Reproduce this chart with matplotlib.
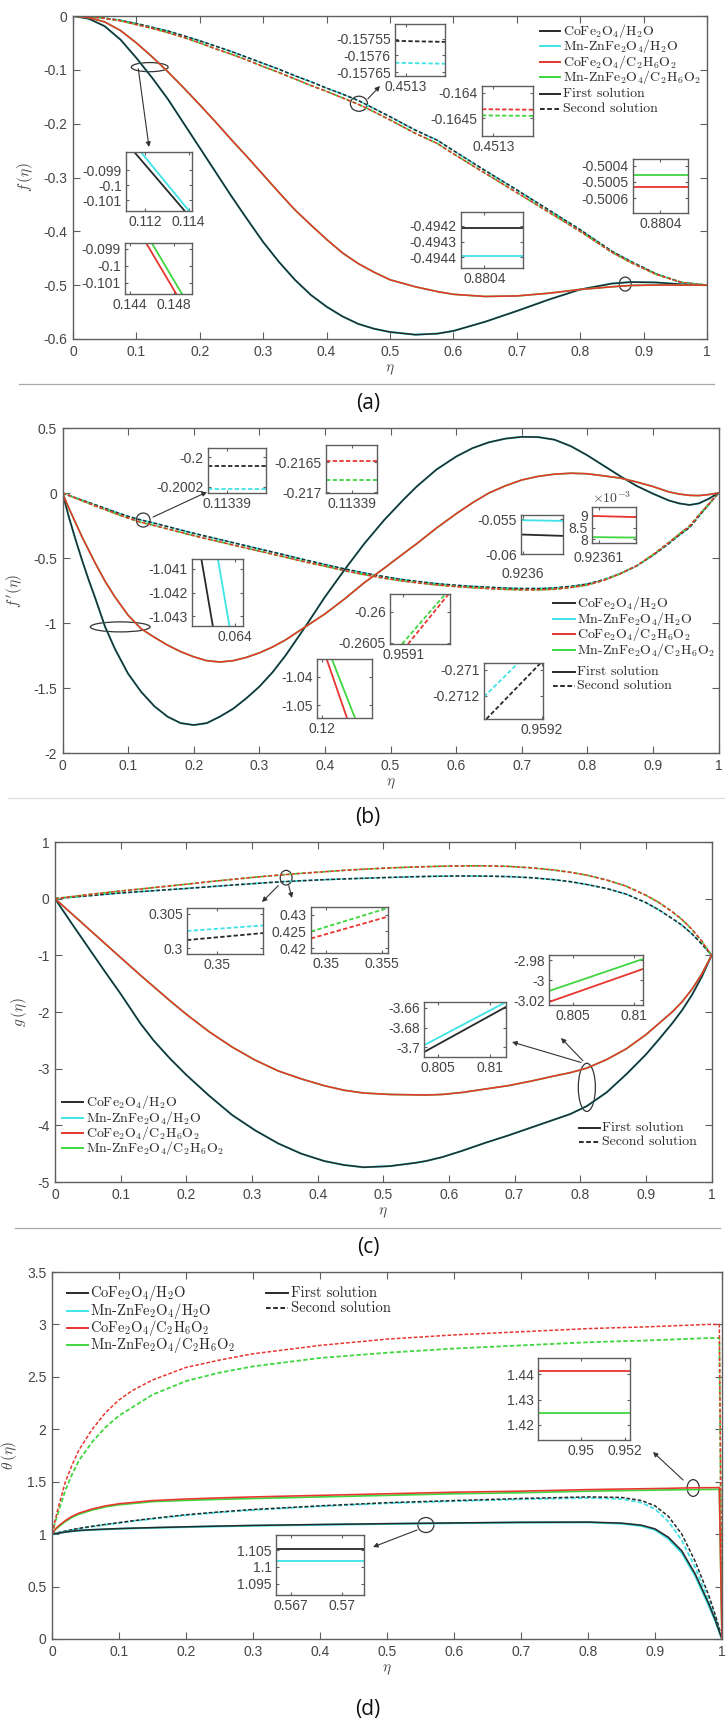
import numpy as np
import matplotlib.pyplot as plt
from matplotlib.patches import Ellipse
from matplotlib.lines import Line2D

plt.rcParams['font.family'] = ['Liberation Sans', 'DejaVu Sans']
plt.rcParams['mathtext.fontset'] = 'cm'
plt.rcParams['axes.unicode_minus'] = False

W, H = 726, 1722

# ---------- data ----------
x_tick_labels = ['0', '0.1', '0.2', '0.3', '0.4', '0.5', '0.6', '0.7', '0.8', '0.9', '1']
materials = ['CoFe$_2$O$_4$/H$_2$O', 'Mn-ZnFe$_2$O$_4$/H$_2$O',
             'CoFe$_2$O$_4$/C$_2$H$_6$O$_2$', 'Mn-ZnFe$_2$O$_4$/C$_2$H$_6$O$_2$']
solutions = ['First solution', 'Second solution']

# (a) f(eta)   (Mn-Zn curves coincide with the Co curves at this scale)
eta_a = [0, 0.025, 0.05, 0.075, 0.1, 0.125, 0.15, 0.175, 0.2, 0.225, 0.25, 0.275, 0.3, 0.325,
         0.35, 0.375, 0.4, 0.425, 0.45, 0.475, 0.5, 0.54, 0.575, 0.6, 0.65, 0.7, 0.75, 0.8,
         0.85, 0.88, 0.92, 0.96, 1]
f_h2o_1 = [0, -0.005, -0.019, -0.044, -0.078, -0.115, -0.155, -0.2, -0.245, -0.29, -0.335,
           -0.378, -0.42, -0.457, -0.49, -0.518, -0.54, -0.558, -0.572, -0.581, -0.587, -0.592,
           -0.59, -0.585, -0.568, -0.548, -0.527, -0.508, -0.497, -0.4942, -0.495, -0.4985, -0.5]
f_eg_1 = [0, -0.003, -0.011, -0.027, -0.05, -0.076, -0.104, -0.134, -0.165, -0.197, -0.23,
          -0.262, -0.295, -0.328, -0.36, -0.388, -0.415, -0.44, -0.46, -0.476, -0.49, -0.503,
          -0.512, -0.517, -0.521, -0.52, -0.515, -0.508, -0.503, -0.5005, -0.4998, -0.4999, -0.5]
f_h2o_2 = [0, -0.001, -0.004, -0.008, -0.014, -0.021, -0.028, -0.037, -0.046, -0.056, -0.066,
           -0.077, -0.088, -0.099, -0.111, -0.122, -0.134, -0.145, -0.157, -0.172, -0.187,
           -0.212, -0.231, -0.25, -0.287, -0.323, -0.36, -0.397, -0.437, -0.456, -0.479,
           -0.495, -0.5]
f_eg_2 = [0, -0.001, -0.0045, -0.009, -0.016, -0.023, -0.031, -0.04, -0.05, -0.061, -0.071,
          -0.082, -0.094, -0.105, -0.117, -0.129, -0.14, -0.152, -0.164, -0.178, -0.193,
          -0.218, -0.237, -0.256, -0.292, -0.328, -0.364, -0.4, -0.439, -0.458, -0.48,
          -0.495, -0.5]

# (b) f'(eta)
eta_b = [0, 0.01, 0.02, 0.03, 0.04, 0.05, 0.065, 0.08, 0.1, 0.12, 0.14, 0.16, 0.18, 0.2, 0.22,
         0.24, 0.26, 0.28, 0.3, 0.32, 0.34, 0.37, 0.4, 0.43, 0.46, 0.49, 0.52, 0.54, 0.57, 0.6,
         0.625, 0.65, 0.675, 0.7, 0.725, 0.75, 0.775, 0.8, 0.825, 0.85, 0.875, 0.9, 0.924,
         0.94, 0.956, 0.97, 0.985, 1]
fp_h2o_1 = [0, -0.19, -0.36, -0.52, -0.67, -0.81, -1.03, -1.2, -1.39, -1.53, -1.64, -1.72,
            -1.77, -1.785, -1.77, -1.72, -1.66, -1.58, -1.49, -1.38, -1.25, -1.03, -0.8, -0.59,
            -0.39, -0.21, -0.05, 0.05, 0.18, 0.28, 0.345, 0.39, 0.418, 0.432, 0.43, 0.41, 0.36,
            0.29, 0.21, 0.13, 0.055, -0.005, -0.057, -0.08, -0.092, -0.08, -0.045, 0]
fp_eg_1 = [0, -0.12, -0.23, -0.34, -0.44, -0.54, -0.68, -0.8, -0.94, -1.045, -1.11, -1.17,
           -1.22, -1.26, -1.29, -1.3, -1.29, -1.265, -1.23, -1.185, -1.13, -1.03, -0.93, -0.815,
           -0.69, -0.58, -0.465, -0.39, -0.27, -0.16, -0.075, 0.0, 0.055, 0.1, 0.128, 0.145,
           0.152, 0.148, 0.132, 0.115, 0.085, 0.05, 0.009, -0.008, -0.018, -0.02, -0.012, 0]
fp_h2o_2 = [0, -0.018, -0.037, -0.055, -0.073, -0.091, -0.118, -0.145, -0.18, -0.208, -0.232,
            -0.258, -0.284, -0.31, -0.334, -0.358, -0.382, -0.406, -0.43, -0.454, -0.478,
            -0.515, -0.55, -0.584, -0.615, -0.643, -0.667, -0.68, -0.697, -0.71, -0.718,
            -0.725, -0.731, -0.735, -0.735, -0.73, -0.718, -0.7, -0.667, -0.62, -0.562,
            -0.48, -0.39, -0.325, -0.265, -0.18, -0.09, 0]
fp_eg_2 = [0, -0.02, -0.04, -0.06, -0.08, -0.1, -0.128, -0.157, -0.193, -0.226, -0.25, -0.276,
           -0.302, -0.328, -0.352, -0.376, -0.4, -0.423, -0.447, -0.47, -0.494, -0.53, -0.563,
           -0.597, -0.628, -0.655, -0.678, -0.69, -0.707, -0.72, -0.728, -0.735, -0.741,
           -0.745, -0.745, -0.74, -0.727, -0.708, -0.672, -0.622, -0.56, -0.475, -0.382,
           -0.316, -0.254, -0.17, -0.085, 0]

# (c) g(eta)
eta_c = [0, 0.025, 0.05, 0.075, 0.1, 0.13, 0.15, 0.175, 0.2, 0.235, 0.27, 0.305, 0.34, 0.375,
         0.41, 0.44, 0.47, 0.51, 0.55, 0.565, 0.59, 0.62, 0.655, 0.69, 0.725, 0.76, 0.785,
         0.81, 0.84, 0.87, 0.9, 0.92, 0.94, 0.955, 0.97, 0.985, 1]
g_h2o_1 = [0, -0.43, -0.85, -1.27, -1.68, -2.2, -2.5, -2.82, -3.11, -3.48, -3.82, -4.09,
           -4.32, -4.5, -4.63, -4.7, -4.74, -4.72, -4.66, -4.63, -4.56, -4.45, -4.31, -4.18,
           -4.04, -3.9, -3.8, -3.66, -3.42, -3.1, -2.75, -2.48, -2.2, -1.97, -1.7, -1.38, -1]
g_eg_1 = [0, -0.26, -0.52, -0.78, -1.04, -1.35, -1.55, -1.8, -2.04, -2.35, -2.62, -2.85,
          -3.04, -3.18, -3.3, -3.38, -3.43, -3.455, -3.462, -3.465, -3.455, -3.42, -3.36,
          -3.3, -3.22, -3.13, -3.07, -2.99, -2.84, -2.65, -2.4, -2.2, -2.0, -1.82, -1.6,
          -1.33, -1]
g_h2o_2 = [0, 0.025, 0.05, 0.075, 0.1, 0.125, 0.14, 0.16, 0.18, 0.21, 0.24, 0.268, 0.295,
           0.316, 0.335, 0.348, 0.36, 0.375, 0.388, 0.392, 0.397, 0.4, 0.398, 0.39, 0.37,
           0.335, 0.3, 0.25, 0.18, 0.08, -0.07, -0.2, -0.35, -0.47, -0.62, -0.8, -1]
g_eg_2 = [0, 0.035, 0.07, 0.103, 0.135, 0.17, 0.195, 0.225, 0.255, 0.3, 0.34, 0.38, 0.415,
          0.447, 0.475, 0.5, 0.52, 0.543, 0.56, 0.565, 0.573, 0.578, 0.578, 0.57, 0.545,
          0.505, 0.465, 0.415, 0.33, 0.22, 0.06, -0.07, -0.23, -0.37, -0.54, -0.75, -1]

# (d) theta(eta)
eta_d = [0, 0.005, 0.01, 0.02, 0.03, 0.04, 0.06, 0.08, 0.1, 0.12, 0.15, 0.2, 0.25, 0.3, 0.4,
         0.5, 0.6, 0.7, 0.8, 0.85, 0.88, 0.9, 0.92, 0.94, 0.96, 0.98, 0.99, 0.996, 0.998, 1]
th_co_h2o_1 = [1, 1.005, 1.01, 1.02, 1.028, 1.035, 1.042, 1.048, 1.053, 1.057, 1.062, 1.07,
               1.077, 1.083, 1.092, 1.1, 1.107, 1.113, 1.115, 1.105, 1.085, 1.05, 0.97, 0.84,
               0.62, 0.34, 0.18, 0.07, 0.035, 0]
th_mn_h2o_1 = [1, 1.005, 1.01, 1.02, 1.027, 1.034, 1.041, 1.046, 1.051, 1.055, 1.06, 1.067,
               1.074, 1.08, 1.089, 1.097, 1.104, 1.11, 1.112, 1.1, 1.078, 1.04, 0.955, 0.82,
               0.6, 0.32, 0.17, 0.065, 0.03, 0]
th_co_h2o_2 = [1, 1.008, 1.015, 1.03, 1.043, 1.055, 1.075, 1.093, 1.11, 1.127, 1.15, 1.185,
               1.212, 1.235, 1.27, 1.3, 1.32, 1.34, 1.355, 1.35, 1.32, 1.27, 1.17, 1.0, 0.74,
               0.42, 0.23, 0.1, 0.05, 0]
th_mn_h2o_2 = [1, 1.007, 1.014, 1.028, 1.04, 1.052, 1.072, 1.09, 1.106, 1.123, 1.145, 1.18,
               1.207, 1.23, 1.265, 1.294, 1.314, 1.332, 1.345, 1.335, 1.3, 1.24, 1.12, 0.94,
               0.68, 0.37, 0.2, 0.09, 0.045, 0]
th_co_eg_1 = [1, 1.05, 1.08, 1.13, 1.17, 1.2, 1.24, 1.27, 1.29, 1.302, 1.32, 1.335, 1.346,
              1.355, 1.37, 1.385, 1.4, 1.41, 1.425, 1.43, 1.433, 1.435, 1.437, 1.44, 1.442,
              1.443, 1.444, 1.445, 0.7, 0]
th_mn_eg_1 = [1, 1.045, 1.07, 1.12, 1.16, 1.19, 1.23, 1.26, 1.28, 1.292, 1.31, 1.322, 1.332,
              1.34, 1.355, 1.37, 1.385, 1.395, 1.41, 1.415, 1.418, 1.42, 1.422, 1.424, 1.425,
              1.426, 1.427, 1.428, 0.7, 0]
th_co_eg_2 = [1, 1.14, 1.27, 1.5, 1.66, 1.8, 2.0, 2.16, 2.28, 2.37, 2.47, 2.59, 2.66, 2.72,
              2.8, 2.86, 2.9, 2.93, 2.96, 2.97, 2.975, 2.98, 2.985, 2.99, 2.995, 3.0, 3.0, 3.0,
              1.5, 0]
th_mn_eg_2 = [1, 1.12, 1.22, 1.42, 1.57, 1.7, 1.88, 2.02, 2.13, 2.21, 2.33, 2.46, 2.54, 2.6,
              2.68, 2.73, 2.77, 2.8, 2.83, 2.84, 2.845, 2.85, 2.855, 2.86, 2.865, 2.87, 2.87,
              2.87, 1.4, 0]

# zoomed windows (x range, y range, line values)
a1_x, a1_y = [0.11112, 0.11415], [-0.10173, -0.0978]
a1_co_x, a1_mn_x, a1_line_y = [0.1115, 0.1138], [0.1118, 0.1140], [-0.0978, -0.1017]
a2_x, a2_y = [0.14354, 0.14969], [-0.10165, -0.09865]
a2_co_x, a2_mn_x, a2_line_y = [0.14548, 0.14825], [0.1460, 0.14877], [-0.09865, -0.10165]
a3_x, a3_y = [0.45128, 0.45137], [-0.157662, -0.157505]
a3_co, a3_mn = [-0.157556, -0.157559], [-0.157622, -0.157625]
a4_x, a4_y = [0.45128, 0.45137], [-0.16484, -0.16387]
a4_co, a4_mn = [-0.16432, -0.16433], [-0.16444, -0.16445]
a5_x, a5_y = [0.88037, 0.88045], [-0.49447, -0.49411]
a5_co, a5_mn = [-0.49421, -0.49421], [-0.49439, -0.49439]
a6_x, a6_y = [0.880395, 0.880405], [-0.50069, -0.50036]
a6_co, a6_mn = [-0.50053, -0.50053], [-0.50046, -0.50046]

b1_x, b1_y = [0.113387, 0.113396], [-0.20024, -0.19994]
b1_co, b1_mn = [-0.20006, -0.20006], [-0.20021, -0.20021]
b2_x, b2_y = [0.113385, 0.113395], [-0.21701, -0.21621]
b2_co, b2_mn = [-0.21648, -0.21648], [-0.21679, -0.21679]
b3_x, b3_y = [0.0630, 0.0642], [-1.0434, -1.0406]
b3_co_x, b3_mn_x, b3_line_y = [0.06322, 0.06349], [0.06361, 0.06388], [-1.0406, -1.0434]
b4_x, b4_y = [0.1195, 0.1255], [-1.0546, -1.0336]
b4_co_x, b4_mn_x, b4_line_y = [0.12055, 0.12277], [0.12112, 0.12364], [-1.0336, -1.0546]
b5_x, b5_y = [0.95908, 0.95917], [-0.26052, -0.25971]
b5_co_x, b5_mn_x, b5_line_y = [0.959107, 0.959168], [0.959098, 0.959163], [-0.26052, -0.25971]
b6_x, b6_y = [0.959151, 0.959201], [-0.27138, -0.27095]
b6_co_x, b6_co_y = [0.959153, 0.959199], [-0.27138, -0.27095]
b6_mn_x, b6_mn_y = [0.959151, 0.959180], [-0.27121, -0.27095]
b7_x, b7_y = [0.923598, 0.923638], [-0.0600, -0.0544]
b7_co, b7_mn = [-0.0572, -0.0574], [-0.05514, -0.05525]
b8_x, b8_y = [0.923604, 0.923644], [7.85e-3, 9.38e-3]
b8_co, b8_mn = [9.0e-3, 8.95e-3], [8.1e-3, 8.08e-3]

c1_x, c1_y = [0.3496, 0.3506], [0.2992, 0.3058]
c1_co, c1_mn = [0.3012, 0.3022], [0.3025, 0.3033]
c2_x, c2_y = [0.34866, 0.35554], [0.4185, 0.4324]
c2_co, c2_mn = [0.4229, 0.4295], [0.425, 0.4321]
c3_x, c3_y = [0.80303, 0.8107], [-3.025, -2.975]
c3_co, c3_mn = [-3.022, -2.989], [-3.011, -2.979]
c4_x, c4_y = [0.80371, 0.81152], [-3.71, -3.654]
c4_co, c4_mn = [-3.705, -3.659], [-3.698, -3.654]

d1_x, d1_y = [0.94805, 0.95223], [1.4141, 1.4463]
d1_co, d1_mn = [1.4412, 1.4412], [1.4247, 1.4247]
d2_x, d2_y = [0.56612, 0.57129], [1.0916, 1.1096]
d2_co, d2_mn = [1.1055, 1.1055], [1.1019, 1.1019]

# ---------- styling ----------
C_BLACK = '#262a2a'
C_CYAN = '#3fe3e6'
C_RED = '#e8352f'
C_GREEN = '#3fd63f'
SPINE = '#5e5e5e'
TXT = '#454545'
DASH = (0, (2.4, 1.3))

fig = plt.figure(figsize=(W / 100, H / 100), dpi=100)


def px_axes(x0, y0, x1, y1):
    return fig.add_axes([x0 / W, 1 - y1 / H, (x1 - x0) / W, (y1 - y0) / H])


def style(ax, size=10, length=5, pad=4):
    for s in ax.spines.values():
        s.set_color(SPINE)
        s.set_linewidth(1.0)
    ax.tick_params(direction='in', length=length, width=0.8, top=True, right=True,
                   color=SPINE, labelcolor=TXT, labelsize=size, pad=pad)


def main_axes(box, eta, s1, s2, ylim, yticks, ylabel):
    ax = px_axes(*box)
    co1, mn1, coe1, mne1 = s1
    co2, mn2, coe2, mne2 = s2
    ax.plot(eta, mn2, color=C_CYAN, ls=DASH, lw=1.3)
    ax.plot(eta, co2, color=C_BLACK, ls=DASH, lw=1.1)
    ax.plot(eta, mne2, color=C_GREEN, ls=DASH, lw=1.3)
    ax.plot(eta, coe2, color=C_RED, ls=DASH, lw=1.1)
    ax.plot(eta, mn1, color=C_CYAN, lw=1.45)
    ax.plot(eta, co1, color=C_BLACK, lw=1.15)
    ax.plot(eta, mne1, color=C_GREEN, lw=1.25)
    ax.plot(eta, coe1, color=C_RED, lw=1.15)
    ax.set_xlim(0, 1)
    ax.set_ylim(*ylim)
    ax.set_xticks(np.linspace(0, 1, 11), x_tick_labels)
    ax.set_yticks(yticks, ['%g' % v for v in yticks])
    style(ax)
    ax.set_xlabel(r'$\eta$', fontsize=11, color=TXT, labelpad=3)
    ax.set_ylabel(ylabel, fontsize=11, color=TXT, labelpad=6)
    return ax


def inset(box, xlim, ylim, xticks, xlabels, yticks, ylabels, series, xpad=3):
    ax = px_axes(*box)
    for xs, ys, color, ls in series:
        ax.plot(xs, ys, color=color, ls=ls, lw=1.3)
    ax.set_xlim(*xlim)
    ax.set_ylim(*ylim)
    ax.set_xticks(xticks, xlabels)
    ax.set_yticks(yticks, ylabels)
    style(ax, size=10, length=2, pad=3)
    ax.tick_params(axis='x', pad=xpad)
    return ax


def ring(ax, xy, w, h):
    ax.add_patch(Ellipse(xy, w, h, fill=False, color='#333333', lw=0.9))


def arrow(ax, start, end_px):
    ax.annotate('', xy=(end_px[0], H - end_px[1]), xycoords='figure pixels',
                xytext=start, textcoords='data',
                arrowprops=dict(arrowstyle='-|>', color='#333333', lw=0.8,
                                mutation_scale=7, shrinkA=0, shrinkB=0))


def legend_rows(x0, x1, xt, ys, labels, styles, fs):
    for y, lab, (color, ls) in zip(ys, labels, styles):
        fig.add_artist(Line2D([x0 / W, x1 / W], [1 - y / H] * 2, color=color, ls=ls, lw=1.4))
        fig.text(xt / W, 1 - y / H, lab, fontsize=fs, family='cmr10', va='center', color='#2a2a2a')


mat_styles = [(C_BLACK, '-'), (C_CYAN, '-'), (C_RED, '-'), (C_GREEN, '-')]
sol_styles = [(C_BLACK, '-'), (C_BLACK, DASH)]

# ---------- (a) ----------
ax = main_axes((73, 16, 707, 339), eta_a, (f_h2o_1, f_h2o_1, f_eg_1, f_eg_1),
               (f_h2o_2, f_h2o_2, f_eg_2, f_eg_2), (-0.6, 0),
               [-0.6, -0.5, -0.4, -0.3, -0.2, -0.1, 0], r'$f\,(\eta)$')
ring(ax, (0.121, -0.095), 0.058, 0.017)
ring(ax, (0.451, -0.163), 0.027, 0.028)
ring(ax, (0.871, -0.498), 0.019, 0.026)
arrow(ax, (0.103, -0.098), (149, 147))
arrow(ax, (0.465, -0.154), (380, 86))
inset((126, 152, 192, 211), a1_x, a1_y, [0.112, 0.114], ['0.112', '0.114'],
      [-0.101, -0.1, -0.099], ['-0.101', '-0.1', '-0.099'],
      [(a1_co_x, a1_line_y, C_BLACK, '-'), (a1_mn_x, a1_line_y, C_CYAN, '-')])
inset((125, 243, 192, 294), a2_x, a2_y, [0.144, 0.148], ['0.144', '0.148'],
      [-0.101, -0.1, -0.099], ['-0.101', '-0.1', '-0.099'],
      [(a2_co_x, a2_line_y, C_RED, '-'), (a2_mn_x, a2_line_y, C_GREEN, '-')])
inset((395, 24, 445, 76), a3_x, a3_y, [0.4513], ['0.4513'],
      [-0.15765, -0.1576, -0.15755], ['-0.15765', '-0.1576', '-0.15755'],
      [(a3_x, a3_co, C_BLACK, DASH), (a3_x, a3_mn, C_CYAN, DASH)])
inset((482, 86, 533, 136), a4_x, a4_y, [0.4513], ['0.4513'],
      [-0.1645, -0.164], ['-0.1645', '-0.164'],
      [(a4_x, a4_co, C_RED, DASH), (a4_x, a4_mn, C_GREEN, DASH)])
inset((461, 212, 523, 268), a5_x, a5_y, [0.8804], ['0.8804'],
      [-0.4944, -0.4943, -0.4942], ['-0.4944', '-0.4943', '-0.4942'],
      [(a5_x, a5_co, C_BLACK, '-'), (a5_x, a5_mn, C_CYAN, '-')])
inset((633, 159, 688, 213), a6_x, a6_y, [0.8804], ['0.8804'],
      [-0.5006, -0.5005, -0.5004], ['-0.5006', '-0.5005', '-0.5004'],
      [(a6_x, a6_co, C_RED, '-'), (a6_x, a6_mn, C_GREEN, '-')])
legend_rows(540, 560, 563, [31, 46, 62, 77], materials, mat_styles, 10)
legend_rows(540, 560, 563, [94, 109], solutions, sol_styles, 10)

# ---------- (b) ----------
ax = main_axes((62.5, 428, 718.5, 753), eta_b, (fp_h2o_1, fp_h2o_1, fp_eg_1, fp_eg_1),
               (fp_h2o_2, fp_h2o_2, fp_eg_2, fp_eg_2), (-2, 0.5),
               [-2, -1.5, -1, -0.5, 0, 0.5], r"$f\,'(\eta)$")
ring(ax, (0.123, -0.208), 0.021, 0.108)
ring(ax, (0.088, -1.03), 0.091, 0.077)
arrow(ax, (0.138, -0.185), (207, 492))
inset((208, 448, 266, 493), b1_x, b1_y, [0.11339], ['0.11339'],
      [-0.2002, -0.2], ['-0.2002', '-0.2'],
      [(b1_x, b1_co, C_BLACK, DASH), (b1_x, b1_mn, C_CYAN, DASH)])
inset((326, 445, 377, 493), b2_x, b2_y, [0.11339], ['0.11339'],
      [-0.217, -0.2165], ['-0.217', '-0.2165'],
      [(b2_x, b2_co, C_RED, DASH), (b2_x, b2_mn, C_GREEN, DASH)])
inset((192, 559, 243, 626), b3_x, b3_y, [0.064], ['0.064'],
      [-1.043, -1.042, -1.041], ['-1.043', '-1.042', '-1.041'],
      [(b3_co_x, b3_line_y, C_BLACK, '-'), (b3_mn_x, b3_line_y, C_CYAN, '-')])
inset((317, 659, 372, 718), b4_x, b4_y, [0.12], ['0.12'],
      [-1.05, -1.04], ['-1.05', '-1.04'],
      [(b4_co_x, b4_line_y, C_RED, '-'), (b4_mn_x, b4_line_y, C_GREEN, '-')])
inset((390, 594, 450, 644), b5_x, b5_y, [0.9591], ['0.9591'],
      [-0.2605, -0.26], ['-0.2605', '-0.26'],
      [(b5_co_x, b5_line_y, C_RED, DASH), (b5_mn_x, b5_line_y, C_GREEN, DASH)])
inset((484, 663, 543, 719), b6_x, b6_y, [0.9592], ['0.9592'],
      [-0.2712, -0.271], ['-0.2712', '-0.271'],
      [(b6_co_x, b6_co_y, C_BLACK, DASH), (b6_mn_x, b6_mn_y, C_CYAN, DASH)])
inset((521, 515, 563, 554), b7_x, b7_y, [0.9236], ['0.9236'],
      [-0.06, -0.055], ['-0.06', '-0.055'],
      [(b7_x, b7_co, C_BLACK, '-'), (b7_x, b7_mn, C_CYAN, '-')], xpad=9)
ax8 = inset((592, 507, 636, 543), b8_x, b8_y, [0.92361], ['0.92361'],
            [8e-3, 8.5e-3, 9e-3], ['8', '8.5', '9'],
            [(b8_x, b8_co, C_RED, '-'), (b8_x, b8_mn, C_GREEN, '-')], xpad=6)
ax8.text(0.0, 1.04, r'$\times10^{-3}$', transform=ax8.transAxes, fontsize=10,
         color=TXT, va='bottom', ha='left')
legend_rows(553, 575, 577, [603, 619, 634, 650], materials, mat_styles, 10)
legend_rows(553, 575, 577, [672, 686], solutions, sol_styles, 10)

# ---------- (c) ----------
ax = main_axes((55, 842, 711.6, 1182), eta_c, (g_h2o_1, g_h2o_1, g_eg_1, g_eg_1),
               (g_h2o_2, g_h2o_2, g_eg_2, g_eg_2), (-5, 1),
               [-5, -4, -3, -2, -1, 0, 1], r'$g\,(\eta)$')
ring(ax, (0.352, 0.37), 0.018, 0.26)
ring(ax, (0.81, -3.33), 0.026, 0.85)
arrow(ax, (0.34, 0.23), (262, 902))
arrow(ax, (0.356, 0.23), (292, 898))
arrow(ax, (0.801, -2.89), (512, 1042))
arrow(ax, (0.804, -2.86), (561, 1038))
inset((187, 908, 263, 954), c1_x, c1_y, [0.35], ['0.35'],
      [0.3, 0.305], ['0.3', '0.305'],
      [(c1_x, c1_co, C_BLACK, DASH), (c1_x, c1_mn, C_CYAN, DASH)])
inset((311, 907, 388, 953), c2_x, c2_y, [0.35, 0.355], ['0.35', '0.355'],
      [0.42, 0.425, 0.43], ['0.42', '0.425', '0.43'],
      [(c2_x, c2_co, C_RED, DASH), (c2_x, c2_mn, C_GREEN, DASH)])
inset((549, 955, 643, 1005), c3_x, c3_y, [0.805, 0.81], ['0.805', '0.81'],
      [-3.02, -3, -2.98], ['-3.02', '-3', '-2.98'],
      [(c3_x, c3_co, C_RED, '-'), (c3_x, c3_mn, C_GREEN, '-')])
inset((424, 1002, 506, 1057), c4_x, c4_y, [0.805, 0.81], ['0.805', '0.81'],
      [-3.7, -3.68, -3.66], ['-3.7', '-3.68', '-3.66'],
      [(c4_x, c4_co, C_BLACK, '-'), (c4_x, c4_mn, C_CYAN, '-')])
legend_rows(62, 83, 86, [1102, 1118, 1133, 1148], materials, mat_styles, 10)
legend_rows(579, 600, 602, [1128, 1142], solutions, sol_styles, 10)

# ---------- (d) ----------
ax = main_axes((52, 1272, 722, 1639), eta_d,
               (th_co_h2o_1, th_mn_h2o_1, th_co_eg_1, th_mn_eg_1),
               (th_co_h2o_2, th_mn_h2o_2, th_co_eg_2, th_mn_eg_2), (0, 3.5),
               [0, 0.5, 1, 1.5, 2, 2.5, 3, 3.5], r'$\theta\,(\eta)$')
ring(ax, (0.957, 1.44), 0.018, 0.16)
ring(ax, (0.558, 1.087), 0.024, 0.143)
arrow(ax, (0.942, 1.516), (653, 1452))
arrow(ax, (0.545, 1.04), (373, 1547))
inset((538, 1358, 630, 1440), d1_x, d1_y, [0.95, 0.952], ['0.95', '0.952'],
      [1.42, 1.43, 1.44], ['1.42', '1.43', '1.44'],
      [(d1_x, d1_co, C_RED, '-'), (d1_x, d1_mn, C_GREEN, '-')])
inset((276, 1535, 364, 1595), d2_x, d2_y, [0.567, 0.57], ['0.567', '0.57'],
      [1.095, 1.1, 1.105], ['1.095', '1.1', '1.105'],
      [(d2_x, d2_co, C_BLACK, '-'), (d2_x, d2_mn, C_CYAN, '-')])
legend_rows(67, 88, 90, [1293, 1311, 1328, 1345], materials, mat_styles, 10.5)
legend_rows(266, 288, 291, [1293, 1308], solutions, sol_styles, 10.5)

# ---------- separators and panel captions ----------
for y, x0, x1, c in [(384, 19, 714, '#a8a8a8'), (798, 8, 724, '#dedede'), (1228, 15, 720, '#a8a8a8')]:
    fig.add_artist(Line2D([x0 / W, x1 / W], [1 - y / H] * 2, color=c, lw=0.9))
for y, lab in [(404, '(a)'), (818, '(b)'), (1248, '(c)'), (1710, '(d)')]:
    fig.text(368 / W, 1 - y / H, lab, fontsize=15, family='Open Sans', ha='center', va='center',
             color='#111111')

fig.savefig('out.png', dpi=100, facecolor='white')
